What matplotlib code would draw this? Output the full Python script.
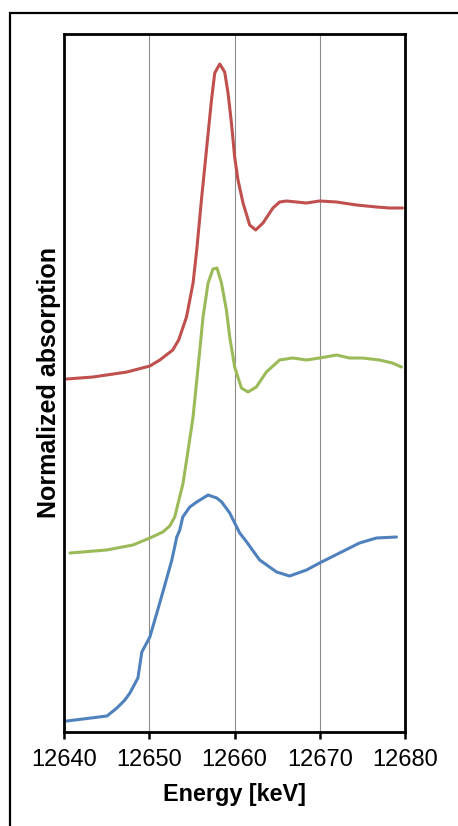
import matplotlib
matplotlib.use("Agg")
import matplotlib.pyplot as plt
from matplotlib.patches import Rectangle

plt.rcParams['font.family'] = ['Liberation Sans', 'DejaVu Sans']

# Energy points (keV) and stacked normalized absorption for each spectrum
red_energy = [12640.32, 12643.40, 12647.38, 12650.07, 12651.24, 12652.76, 12653.45, 12654.37,
              12655.14, 12655.57, 12656.12, 12656.71, 12657.30, 12657.68, 12658.27, 12658.85,
              12659.24, 12659.64, 12660.02, 12660.41, 12661.00, 12661.78, 12662.48, 12663.34,
              12664.51, 12665.29, 12666.11, 12668.45, 12669.98, 12671.97, 12674.31, 12676.65,
              12678.17, 12679.70]
red_abs = [3.53, 3.55, 3.60, 3.66, 3.72, 3.82, 3.92, 4.15,
           4.49, 4.82, 5.32, 5.82, 6.32, 6.59, 6.68, 6.60,
           6.39, 6.09, 5.75, 5.52, 5.29, 5.07, 5.02, 5.09,
           5.24, 5.30, 5.31, 5.29, 5.31, 5.30, 5.27, 5.25,
           5.24, 5.24]

green_energy = [12640.70, 12645.00, 12648.08, 12650.07, 12651.59, 12652.40, 12652.99, 12653.97,
                12654.56, 12655.14, 12655.54, 12655.93, 12656.31, 12656.90, 12657.48, 12657.95,
                12658.47, 12659.05, 12659.44, 12660.02, 12660.81, 12661.58, 12662.56, 12663.74,
                12665.29, 12666.81, 12668.45, 12669.98, 12671.97, 12673.49, 12675.01, 12677.00,
                12678.52, 12679.58]
green_abs = [1.79, 1.82, 1.87, 1.94, 2.00, 2.06, 2.15, 2.49,
             2.82, 3.15, 3.49, 3.82, 4.15, 4.49, 4.63, 4.64,
             4.49, 4.22, 3.95, 3.65, 3.44, 3.40, 3.45, 3.60,
             3.72, 3.74, 3.72, 3.74, 3.77, 3.74, 3.74, 3.72,
             3.69, 3.65]

blue_energy = [12640.32, 12642.22, 12645.04, 12646.21, 12647.14, 12647.73, 12648.67, 12649.13,
               12650.07, 12650.89, 12651.83, 12652.65, 12653.23, 12653.58, 12653.93, 12654.75,
               12655.57, 12656.90, 12657.92, 12658.50, 12659.44, 12660.61, 12661.43, 12662.95,
               12664.94, 12666.46, 12668.45, 12669.98, 12672.32, 12674.66, 12676.65, 12679.00]
blue_abs = [0.11, 0.13, 0.16, 0.24, 0.32, 0.39, 0.54, 0.80,
            0.95, 1.19, 1.47, 1.72, 1.95, 2.02, 2.15, 2.25,
            2.30, 2.37, 2.34, 2.30, 2.19, 1.99, 1.90, 1.72,
            1.60, 1.56, 1.62, 1.69, 1.79, 1.89, 1.94, 1.95]

energy_ticks = [12640, 12650, 12660, 12670, 12680]

fig = plt.figure(figsize=(4.58, 8.26), dpi=100)
# outer frame around the whole chart
fig.patches.append(Rectangle((10 / 458, -0.1), 1.2, 1.1 - 13 / 826, transform=fig.transFigure,
                             fill=False, edgecolor='black', linewidth=1.6))

ax = fig.add_axes([64 / 458, 1 - 732 / 826, 341 / 458, (732 - 33.5) / 826])

line_kw = dict(linewidth=2.2, solid_capstyle='round', solid_joinstyle='round')
ax.plot(blue_energy, blue_abs, color='#4F81BD', **line_kw)
ax.plot(green_energy, green_abs, color='#9BBB59', **line_kw)
ax.plot(red_energy, red_abs, color='#C0504D', **line_kw)

ax.set_xlim(12640, 12680)
ax.set_ylim(0, 6.985)
ax.set_xticks(energy_ticks)
ax.set_xticklabels([str(t) for t in energy_ticks], fontsize=17)
ax.set_yticks([])
ax.tick_params(axis='x', direction='out', length=5, width=1.8, pad=7, colors='black')
ax.grid(axis='x', color='#8c8c8c', linewidth=0.8)
ax.set_axisbelow(True)
for side in ax.spines.values():
    side.set_linewidth(2.0)
    side.set_color('black')

ax.set_xlabel('Energy [keV]', fontsize=16.8, fontweight='bold', labelpad=9)
ax.set_ylabel('Normalized absorption', fontsize=18, fontweight='bold', labelpad=2)

fig.savefig('out.png', dpi=100)
